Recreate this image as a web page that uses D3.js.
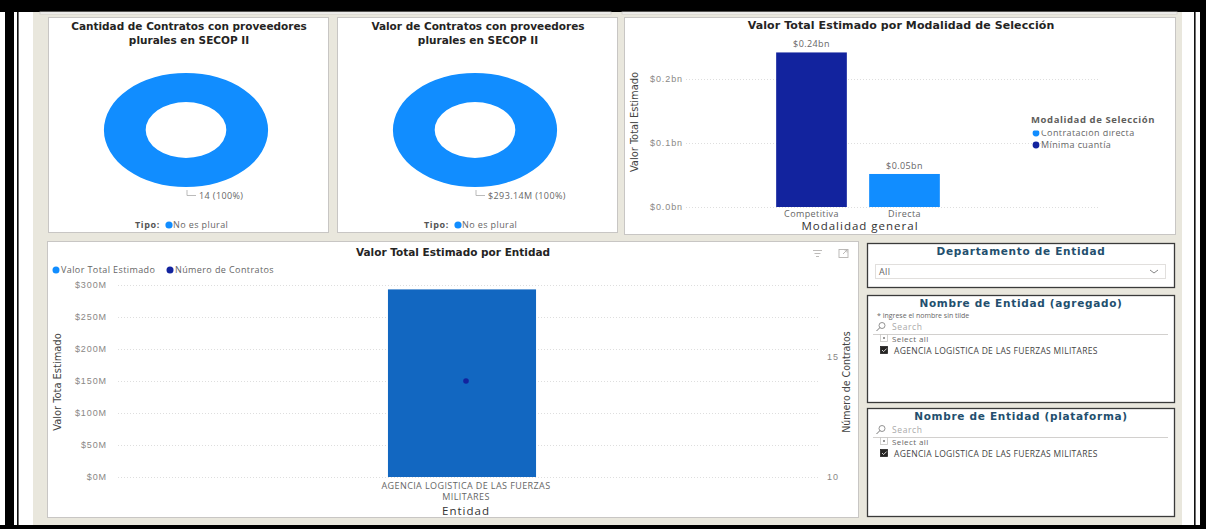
<!DOCTYPE html>
<html>
<head>
<meta charset="utf-8">
<script src="https://cdn.jsdelivr.net/npm/d3@7"></script>
<style>
  body { margin: 0; background: #fff; }
  svg { display: block; font-family: "Open Sans", "DejaVu Sans", sans-serif; }
  .grid line { stroke: #dedede; stroke-dasharray: 1,2; }
  .grid .domain { display: none; }
  .grid text { fill: #8a8886; font-size: 9px; letter-spacing: 0.9px; }
  .ttl { font-family: "DejaVu Sans", sans-serif; font-weight: bold; fill: #252423; }
  .lbl { fill: #666; font-size: 9px; letter-spacing: 0.4px; }
  .narrow { font-family: "Liberation Sans Narrow", "DejaVu Sans Condensed", sans-serif; font-stretch: condensed; fill: #444; }
  .slt { font-family: "DejaVu Sans", sans-serif; font-weight: bold; fill: #234f6e; font-size: 10.5px; letter-spacing: 0.7px; }
</style>
</head>
<body>
<script>
// ---- data ----
var tipos = ["No es plural"];
var contratosPorTipo = [14];
var valorPorTipo = [293.14e6];

var modalidades = ["Competitiva", "Directa"];
var valorPorModalidad = [0.2415e9, 0.0516e9];
var modalidadColor = ["#12239e", "#118dff"];
var leyendaModalidad = ["Contratación directa", "Mínima cuantía"];
var leyendaColor = ["#118dff", "#12239e"];
var ticksModalidad = [0, 0.1e9, 0.2e9];

var entidades = ["AGENCIA LOGISTICA DE LAS FUERZAS MILITARES"];
var entidadLineas = ["AGENCIA LOGISTICA DE LAS FUERZAS", "MILITARES"];
var valorPorEntidad = [293.14e6];
var contratosPorEntidad = [14];
var ticksValor = [0, 50e6, 100e6, 150e6, 200e6, 250e6, 300e6];
var ticksContratos = [10, 15];

var departamentoOpciones = ["All"];
var entidadOpciones = ["Select all", "AGENCIA LOGISTICA DE LAS FUERZAS MILITARES"];

var svg = d3.select("body").append("svg")
    .attr("width", 1206)
    .attr("height", 529);

// ---- frame & canvas ----
svg.append("rect").attr("width", 1206).attr("height", 529).attr("fill", "#fff");
svg.append("rect").attr("x", 33).attr("y", 12).attr("width", 1149).attr("height", 513).attr("fill", "#e9e7dd");
svg.append("rect").attr("x", 5).attr("y", 0).attr("width", 9).attr("height", 529).attr("fill", "#000");
svg.append("rect").attr("x", 17).attr("y", 0).attr("width", 1.6).attr("height", 529).attr("fill", "#111");
svg.append("rect").attr("x", 1194).attr("y", 0).attr("width", 1.6).attr("height", 529).attr("fill", "#111");
svg.append("rect").attr("x", 1200).attr("y", 0).attr("width", 6).attr("height", 529).attr("fill", "#000");
svg.append("rect").attr("x", 0).attr("y", 0).attr("width", 1206).attr("height", 12).attr("fill", "#000");
svg.append("rect").attr("x", 0).attr("y", 525).attr("width", 1206).attr("height", 4).attr("fill", "#000");
// bottoms of panels cut off above
[[40, 571], [622, 555]].forEach(function(p) {
    svg.append("rect").attr("x", p[0]).attr("y", 12).attr("width", p[1]).attr("height", 2)
        .attr("fill", "#fff").attr("stroke", "#cfcdc8").attr("stroke-width", 0.8);
});

function panel(x, y, w, h, stroke, sw) {
    svg.append("rect").attr("x", x + 0.5).attr("y", y + 0.5).attr("width", w).attr("height", h)
        .attr("fill", "#fff").attr("stroke", stroke || "#c8c6c4").attr("stroke-width", sw || 1);
}

// ---- donuts ----
function donut(cx, title, values, label) {
    var px = cx - 140;
    panel(px, 17, 280, 215);
    svg.append("text").attr("class", "ttl").attr("x", cx + 1).attr("y", 30)
        .attr("text-anchor", "middle").attr("font-size", 10.5)
        .selectAll("tspan").data(title).join("tspan")
        .attr("x", cx + 1).attr("dy", function(d, i) { return i ? 14 : 0; }).text(function(d) { return d; });

    var pie = d3.pie().sort(null)(values);
    var arc = d3.arc().innerRadius(28).outerRadius(57);
    svg.append("g").attr("transform", "translate(" + (cx - 2) + ",130) scale(1.44,1)")
        .selectAll("path").data(pie).join("path")
        .attr("d", arc).attr("fill", "#118dff");

    svg.append("path").attr("d", "M" + (cx - 1) + ",190 V195.5 H" + (cx + 8))
        .attr("fill", "none").attr("stroke", "#aaa").attr("stroke-width", 0.8);
    svg.append("text").attr("class", "lbl").attr("x", cx + 11).attr("y", 199).attr("fill", "#777").text(label);

    var lg = svg.append("g").attr("transform", "translate(" + (cx - 53) + ",228)");
    lg.append("text").attr("font-size", 9).attr("font-weight", "bold").attr("fill", "#555")
        .attr("letter-spacing", 0.6).text("Tipo:");
    lg.selectAll("circle").data(tipos).join("circle")
        .attr("cx", 34).attr("cy", -3).attr("r", 3.6).attr("fill", "#118dff");
    lg.selectAll("text.t").data(tipos).join("text").attr("class", "t lbl")
        .attr("x", 38).attr("y", 0).attr("letter-spacing", 0).text(function(d) { return d; });
}
donut(188, ["Cantidad de Contratos con proveedores", "plurales en SECOP II"], contratosPorTipo,
    contratosPorTipo[0] + " (100%)");
donut(477, ["Valor de Contratos con proveedores", "plurales en SECOP II"], valorPorTipo,
    "$" + d3.format(".2f")(valorPorTipo[0] / 1e6) + "M (100%)");

// ---- valor por modalidad ----
panel(624, 17, 551, 217);
svg.append("text").attr("class", "ttl").attr("x", 901).attr("y", 29).attr("text-anchor", "middle")
    .attr("font-size", 11).attr("letter-spacing", 0.1).text("Valor Total Estimado por Modalidad de Selección");

var yM = d3.scaleLinear().domain([0, 0.25e9]).range([207, 47]);
var xM = d3.scaleBand().domain(modalidades).range([765, 951]).paddingInner(0.24).paddingOuter(0.12);

svg.append("g").attr("class", "grid").attr("transform", "translate(686,0)")
    .call(d3.axisLeft(yM).tickValues(ticksModalidad).tickSize(-414).tickPadding(3)
        .tickFormat(function(d) { return "$" + d3.format(".1f")(d / 1e9) + "bn"; }));

svg.append("g").selectAll("rect").data(modalidades).join("rect")
    .attr("x", function(d) { return xM(d); })
    .attr("width", xM.bandwidth())
    .attr("y", function(d, i) { return yM(valorPorModalidad[i]); })
    .attr("height", function(d, i) { return yM(0) - yM(valorPorModalidad[i]); })
    .attr("fill", function(d, i) { return modalidadColor[i]; });

svg.append("g").selectAll("text").data(modalidades).join("text").attr("class", "lbl")
    .attr("x", function(d) { return xM(d) + xM.bandwidth() / 2; })
    .attr("y", function(d, i) { return yM(valorPorModalidad[i]) - 5; })
    .attr("text-anchor", "middle").attr("font-size", 8.5)
    .text(function(d, i) { return "$" + d3.format(".2f")(valorPorModalidad[i] / 1e9) + "bn"; });

svg.append("g").selectAll("text").data(modalidades).join("text").attr("class", "lbl")
    .attr("x", function(d) { return xM(d) + xM.bandwidth() / 2; })
    .attr("y", 217).attr("text-anchor", "middle").attr("font-size", 8.5).attr("fill", "#777")
    .text(function(d) { return d; });

svg.append("text").attr("x", 860).attr("y", 230).attr("text-anchor", "middle")
    .attr("font-size", 11.5).attr("letter-spacing", 1).attr("fill", "#333").text("Modalidad general");
svg.append("text").attr("class", "narrow").attr("transform", "translate(638,122) rotate(-90)")
    .attr("text-anchor", "middle").attr("font-size", 11).text("Valor Total Estimado");

svg.append("text").attr("x", 1031).attr("y", 123).attr("font-size", 9.5).attr("font-weight", "bold")
    .attr("letter-spacing", 0.6).attr("fill", "#605e5c").text("Modalidad de Selección");
svg.append("clipPath").attr("id", "legclip").append("rect")
    .attr("x", 1025).attr("y", 130.5).attr("width", 150).attr("height", 40);
var lm = svg.append("g").attr("clip-path", "url(#legclip)").selectAll("g").data(leyendaModalidad).join("g")
    .attr("transform", function(d, i) { return "translate(1036," + (136 + i * 12) + ")"; });
lm.append("circle").attr("cy", -3).attr("r", 3.4).attr("fill", function(d, i) { return leyendaColor[i]; });
lm.append("text").attr("class", "lbl").attr("x", 5).attr("font-size", 9).text(function(d) { return d; });

// ---- valor por entidad (combo) ----
panel(47, 241, 811, 276);
svg.append("text").attr("class", "ttl").attr("x", 453).attr("y", 256).attr("text-anchor", "middle")
    .attr("font-size", 10.5).text("Valor Total Estimado por Entidad");

var yL = d3.scaleLinear().domain([0, 300e6]).range([477, 285]);
var yR = d3.scaleLinear().domain([10, 18]).range([477, 285]);
var xE = d3.scaleBand().domain(entidades).range([324.5, 599.5]).padding(0.3);

svg.append("g").attr("class", "grid").attr("transform", "translate(118,0)")
    .call(d3.axisLeft(yL).tickValues(ticksValor).tickSize(-700).tickPadding(11)
        .tickFormat(function(d) { return "$" + d / 1e6 + "M"; }));
svg.append("g").attr("class", "grid").attr("transform", "translate(818,0)")
    .call(d3.axisRight(yR).tickValues(ticksContratos).tickSize(0).tickPadding(9));

svg.append("g").selectAll("rect").data(entidades).join("rect")
    .attr("x", function(d) { return xE(d); })
    .attr("width", xE.bandwidth())
    .attr("y", function(d, i) { return yL(valorPorEntidad[i]); })
    .attr("height", function(d, i) { return yL(0) - yL(valorPorEntidad[i]); })
    .attr("fill", "#1267c1");
svg.append("g").selectAll("circle").data(entidades).join("circle")
    .attr("cx", function(d) { return xE(d) + xE.bandwidth() / 2 + 4; })
    .attr("cy", function(d, i) { return yR(contratosPorEntidad[i]); })
    .attr("r", 2.8).attr("fill", "#12239e");

svg.append("g").selectAll("text").data(entidadLineas).join("text").attr("class", "lbl")
    .attr("x", xE(entidades[0]) + xE.bandwidth() / 2 + 4)
    .attr("y", function(d, i) { return 488.5 + i * 11; })
    .attr("text-anchor", "middle").attr("font-size", 7).attr("letter-spacing", 0.1).attr("fill", "#666")
    .text(function(d) { return d; });
svg.append("text").attr("x", 466).attr("y", 514.5).attr("text-anchor", "middle")
    .attr("font-size", 11.5).attr("letter-spacing", 1).attr("fill", "#333").text("Entidad");

svg.append("text").attr("class", "narrow").attr("transform", "translate(61,382) rotate(-90)")
    .attr("text-anchor", "middle").attr("font-size", 11).text("Valor Tota Estimado");
svg.append("text").attr("class", "narrow").attr("transform", "translate(850,382) rotate(-90)")
    .attr("text-anchor", "middle").attr("font-size", 10.5).text("Número de Contratos");

var le = svg.append("g").selectAll("g").data(["Valor Total Estimado", "Número de Contratos"]).join("g")
    .attr("transform", function(d, i) { return "translate(" + (56 + i * 114) + ",273)"; });
le.append("circle").attr("cy", -3).attr("r", 3.5).attr("fill", function(d, i) { return i ? "#12239e" : "#118dff"; });
le.append("text").attr("class", "lbl").attr("x", 5).attr("font-size", 8.5).attr("letter-spacing", 0.1)
    .text(function(d) { return d; });

// header icons
var ic = svg.append("g").attr("stroke", "#b5b3b1").attr("fill", "none").attr("stroke-width", 0.9);
ic.append("path").attr("d", "M813,250.5h9 M814.5,253.5h6 M816,256.5h3");
ic.append("rect").attr("x", 839).attr("y", 249.5).attr("width", 9).attr("height", 8);
ic.append("path").attr("d", "M843,254 l4,-4 M844.5,250 h2.5 v2.5");

// ---- slicers ----
panel(867, 243, 307, 44, "#3a3a3a", 1.3);
svg.append("text").attr("class", "slt").attr("x", 1021).attr("y", 255).attr("text-anchor", "middle")
    .text("Departamento de Entidad");
svg.append("rect").attr("x", 875.5).attr("y", 264.5).attr("width", 290).attr("height", 14)
    .attr("fill", "#fff").attr("stroke", "#e1dfdd");
svg.append("text").attr("class", "lbl").attr("x", 879).attr("y", 274.5).attr("font-size", 8).attr("fill", "#888")
    .text(departamentoOpciones[0]);
svg.append("path").attr("d", "M1150,270 l4,3 l4,-3").attr("fill", "none").attr("stroke", "#777").attr("stroke-width", 0.9);

function listSlicer(y, h, title, note) {
    panel(867, y, 307, h, "#3a3a3a", 1.3);
    svg.append("text").attr("class", "slt").attr("x", 1021).attr("y", y + 12).attr("text-anchor", "middle").text(title);
    var sy = y + 12;
    if (note) {
        svg.append("text").attr("x", 877).attr("y", y + 23).attr("font-size", 7).attr("fill", "#666").text(note);
        sy = y + 22;
    }
    var s = svg.append("g").attr("transform", "translate(0," + (sy + 13) + ")");
    s.append("circle").attr("cx", 882).attr("cy", -4.5).attr("r", 3).attr("fill", "none").attr("stroke", "#777").attr("stroke-width", 0.8);
    s.append("path").attr("d", "M880,-2.5 l-3.5,3.5").attr("stroke", "#777").attr("stroke-width", 1);
    s.append("text").attr("x", 892).attr("y", 0).attr("font-size", 8.5).attr("fill", "#aaa").attr("letter-spacing", 0.6).text("Search");
    s.append("line").attr("x1", 873).attr("x2", 1168).attr("y1", 4.5).attr("y2", 4.5).attr("stroke", "#d2d0ce");

    var it = s.selectAll("g.item").data(entidadOpciones).join("g").attr("class", "item")
        .attr("transform", function(d, i) { return "translate(0," + (12 + i * 12) + ")"; });
    it.append("rect").attr("x", 880.5).attr("y", -7.5).attr("width", 7).attr("height", 7)
        .attr("fill", function(d, i) { return i ? "#252423" : "#fff"; })
        .attr("stroke", function(d, i) { return i ? "#252423" : "#c8c6c4"; }).attr("stroke-width", 0.8);
    it.filter(function(d, i) { return i === 0; }).append("rect")
        .attr("x", 883).attr("y", -5).attr("width", 2).attr("height", 2).attr("fill", "#999");
    it.filter(function(d, i) { return i === 1; }).append("path").attr("d", "M882,-4 l1.6,1.6 l3,-3")
        .attr("fill", "none").attr("stroke", "#fff").attr("stroke-width", 0.8);
    it.append("text").attr("x", function(d, i) { return i ? 894 : 892; }).attr("y", 0)
        .attr("font-size", function(d, i) { return i ? 8.5 : 8; })
        .attr("letter-spacing", function(d, i) { return i ? 0.3 : 0.4; })
        .attr("fill", function(d, i) { return i ? "#444" : "#666"; }).text(function(d) { return d; });
}
listSlicer(295, 107, "Nombre de Entidad (agregado)", "* ingrese el nombre sin tilde");
listSlicer(408, 108, "Nombre de Entidad (plataforma)", null);
</script>
</body>
</html>
